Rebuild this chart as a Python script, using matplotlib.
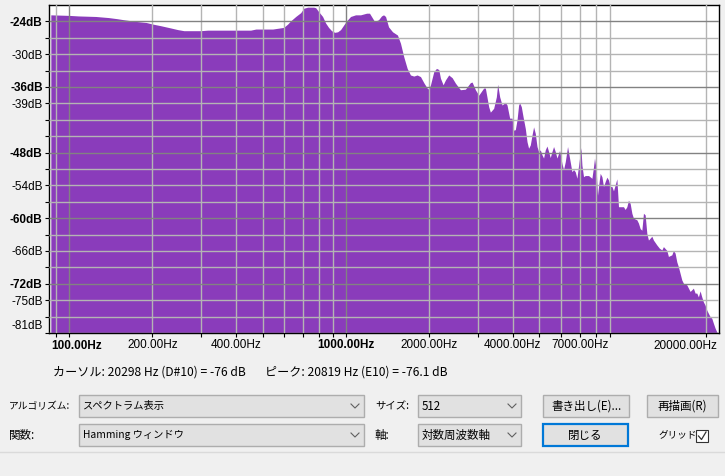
import matplotlib as mpl
mpl.use('Agg')
import matplotlib.pyplot as plt
from matplotlib.patches import Rectangle
from matplotlib.lines import Line2D
from matplotlib.ticker import FixedLocator, FuncFormatter

# spectrum (Hz, dB)
freq = [86, 100, 108, 125, 139, 149, 158, 174, 190, 201, 215, 233, 247, 260, 299, 317,
        394, 453, 473, 544, 596, 616, 632, 659, 687, 704, 728, 765, 778, 797, 824, 845,
        866, 888, 911, 934, 957, 981, 1006, 1040, 1084, 1130, 1188, 1217, 1248, 1269,
        1312, 1345, 1368, 1391, 1426, 1474, 1536, 1575, 1619, 1665, 1711, 1759, 1809,
        1860, 1911, 1966, 1992, 2021, 2077, 2124, 2165, 2196, 2245, 2289, 2352, 2420,
        2487, 2592, 2702, 2817, 2857, 2936, 3018, 3145, 3190, 3279, 3325, 3418, 3495,
        3533, 3593, 3665, 3767, 3820, 3904, 3982, 4035, 4092, 4151, 4206, 4241, 4301,
        4363, 4447, 4510, 4570, 4635, 4701, 4764, 4832, 4901, 4966, 5037, 5108, 5176,
        5250, 5324, 5396, 5472, 5550, 5625, 5704, 5786, 5912, 6031, 6111, 6198, 6318,
        6424, 6553, 6641, 6735, 6831, 6922, 7062, 7120, 7216, 7318, 7522, 7737, 7840,
        7906, 8018, 8105, 8173, 8289, 8407, 8519, 8640, 8763, 8880, 9006, 9135, 9257,
        9389, 9522, 9650, 10058, 10201, 10346, 10485, 10634, 10786, 10930, 11243, 11393,
        11556, 11720, 11877, 12046, 12217, 12381, 12735, 12905, 13275, 13565, 13838,
        14023, 14425, 14618, 15036, 15237, 15454, 15674, 15884, 16110, 16340, 16558,
        17032, 17506, 17754, 17991, 18247, 18507, 18754, 19021, 19291, 19549, 19827,
        20109, 20378, 20668, 20962, 21243, 21545, 21852, 22050]
level = [-22.8, -22.9, -23.0, -23.1, -23.3, -23.5, -23.7, -24.0, -24.2, -24.5, -24.8, -25.2,
         -25.5, -25.7, -25.7, -25.6, -25.6, -25.6, -25.4, -25.4, -25.1, -24.5, -23.9, -23.1,
         -22.4, -21.6, -21.4, -21.4, -21.5, -22.2, -23.1, -24.3, -25.1, -25.7, -26.0, -25.9,
         -25.5, -24.7, -23.9, -23.1, -22.8, -22.8, -22.5, -22.5, -23.4, -24.0, -23.7, -23.0,
         -22.8, -23.1, -25.0, -25.9, -26.5, -28.0, -30.5, -32.6, -33.8, -34.0, -33.8, -34.1,
         -35.2, -36.2, -36.4, -35.6, -33.2, -32.6, -32.8, -34.4, -35.6, -34.7, -33.8, -34.3,
         -35.3, -36.5, -36.4, -35.2, -35.1, -36.5, -37.5, -36.2, -36.2, -39.6, -40.6, -39.9,
         -37.8, -35.5, -37.8, -39.3, -38.8, -39.3, -41.7, -41.7, -43.9, -43.8, -42.0, -39.3,
         -38.9, -39.6, -41.4, -43.6, -46.0, -47.2, -46.6, -44.8, -43.3, -44.5, -46.9, -47.8,
         -47.5, -48.4, -49.0, -47.5, -46.8, -47.8, -48.9, -47.8, -46.9, -47.8, -49.0, -47.6,
         -50.0, -51.1, -49.7, -46.9, -49.0, -51.5, -51.1, -51.5, -52.7, -50.4, -47.1, -50.3,
         -52.4, -52.2, -52.2, -52.7, -50.6, -49.0, -51.2, -55.8, -54.2, -51.8, -52.4, -54.2,
         -53.3, -52.5, -53.0, -54.2, -54.2, -55.0, -53.9, -52.8, -57.9, -57.9, -58.4, -57.9,
         -56.7, -57.3, -59.1, -60.0, -60.3, -60.9, -61.9, -62.2, -59.1, -59.4, -62.8, -64.0,
         -63.3, -64.0, -64.9, -65.5, -65.8, -65.2, -65.9, -67.0, -66.7, -65.9, -66.4, -68.0,
         -68.9, -70.1, -71.3, -71.9, -72.2, -73.4, -73.1, -72.8, -73.7, -73.7, -74.4, -73.3,
         -74.4, -75.3, -75.9, -76.8, -77.4, -78.0, -78.3, -79.2, -80.1, -80.8, -81.0]

x_major = [100, 1000]
x_minor = [90, 200, 300, 400, 500, 600, 700, 800, 900,
           2000, 3000, 4000, 5000, 6000, 7000, 8000, 9000, 20000]
x_minor_labels = {200: '200.00Hz', 400: '400.00Hz', 2000: '2000.00Hz',
                  4000: '4000.00Hz', 7000: '7000.00Hz'}
y_major = [-24, -36, -48, -60, -72]
y_minor = [-27, -30, -33, -39, -42, -45, -51, -54, -57, -63, -66, -69, -75, -78, -81]
y_minor_labels = [-30, -39, -54, -66, -75]

info_cursor = 'カーソル: 20298 Hz (D#10) = -76 dB'
info_peak = 'ピーク: 20819 Hz (E10) = -76.1 dB'

W, H = 725, 476
BG = '#f0f0f0'
JP = ['Noto Sans CJK JP', 'DejaVu Sans']
plt.rcParams['font.family'] = ['Liberation Sans', 'DejaVu Sans']

fig = plt.figure(figsize=(W / 100, H / 100), dpi=100, facecolor=BG)

def fx(x):
    return x / W

def fy(y):
    return 1 - y / H

ax = fig.add_axes([fx(49), fy(333), 670 / W, 328 / H])
ax.fill_between(freq, level, -90, color='#8a3cbb', lw=0, zorder=1)
ax.set_xscale('log')
ax.set_xlim(84.7, 22260)
ax.set_ylim(-81, -21)

ax.xaxis.set_major_locator(FixedLocator(x_major))
ax.xaxis.set_minor_locator(FixedLocator(x_minor))
ax.xaxis.set_major_formatter(FuncFormatter(lambda v, p: '1000.00Hz' if round(v) == 1000 else ''))
ax.xaxis.set_minor_formatter(FuncFormatter(lambda v, p: x_minor_labels.get(int(round(v)), '')))
ax.yaxis.set_major_locator(FixedLocator(y_major))
ax.yaxis.set_minor_locator(FixedLocator(y_minor))
ax.yaxis.set_major_formatter(FuncFormatter(lambda v, p: '%ddB' % v))
ax.yaxis.set_minor_formatter(FuncFormatter(lambda v, p: '%ddB' % v if int(round(v)) in y_minor_labels else ''))

ax.tick_params(which='both', direction='out', length=3, width=0.8, labelsize=8.5, pad=1.5)
for t in ax.get_xticklabels(which='major') + ax.get_yticklabels(which='major'):
    t.set_fontweight('bold')

ax.grid(which='major', color='#828282', lw=1.0)
ax.grid(which='minor', color='#b4b4b4', lw=1.0)
ax.set_axisbelow(False)
for s in ax.spines.values():
    s.set_color('black')
    s.set_linewidth(1.0)

ax.annotate('100.00Hz', xy=(100, 0), xycoords=('data', 'axes fraction'), xytext=(-18, -13),
            textcoords='offset pixels', ha='left', va='center', fontsize=8.5, fontweight='bold')
ax.annotate('20000.00Hz', xy=(20000, 0), xycoords=('data', 'axes fraction'), xytext=(11, -13),
            textcoords='offset pixels', ha='right', va='center', fontsize=8.5)
ax.annotate('-81dB', xy=(0, -81), xycoords=('axes fraction', 'data'), xytext=(-6, 7),
            textcoords='offset pixels', ha='right', va='center', fontsize=8.5)

# info line
fig.text(fx(53), fy(372), info_cursor, family=JP, fontsize=8.7, va='center')
fig.text(fx(265), fy(372), info_peak, family=JP, fontsize=8.7, va='center')

# dialog controls
def box(x0, y0, x1, y1, ec='#adadad', lw=1.0):
    fig.patches.append(Rectangle((fx(x0), fy(y1)), (x1 - x0) / W, (y1 - y0) / H,
                                 transform=fig.transFigure, fc='#e1e1e1', ec=ec, lw=lw))

def chevron(xc, yc):
    fig.lines.append(Line2D([fx(xc - 4), fx(xc), fx(xc + 4)], [fy(yc - 2), fy(yc + 2), fy(yc - 2)],
                            transform=fig.transFigure, color='#606060', lw=0.8))

def combo(x0, x1, yc, text, size=8.3):
    box(x0, yc - 11, x1, yc + 11)
    fig.text(fx(x0 + 4), fy(yc), text, family=JP, fontsize=size, va='center')
    chevron(x1 - 9, yc)

def label(x, yc, text, size=8.3):
    fig.text(fx(x), fy(yc), text, family=JP, fontsize=size, va='center')

def button(x0, x1, yc, text, ec='#adadad', lw=1.0):
    box(x0, yc - 11, x1, yc + 11, ec=ec, lw=lw)
    fig.text(fx((x0 + x1) / 2), fy(yc), text, family=JP, fontsize=8.3, va='center', ha='center')

label(9, 406, 'アルゴリズム:', size=7.0)
combo(79, 364, 406, 'スペクトラム表示', size=7.4)
label(375, 406, 'サイズ:', size=7.5)
combo(418, 521, 406, '512')
button(543, 629, 406, '書き出し(E)...')
button(647, 718, 406, '再描画(R)')

label(9, 435, '関数:')
combo(79, 364, 435, 'Hamming ウィンドウ', size=7.4)
label(375, 435, '軸:')
combo(418, 521, 435, '対数周波数軸')
button(543, 628, 435, '閉じる', ec='#0078d7', lw=1.6)
label(658, 435, 'グリッド', size=6.9)

fig.patches.append(Rectangle((fx(696), fy(442)), 12 / W, 12 / H, transform=fig.transFigure,
                             fc='white', ec='#333333', lw=0.8))
fig.lines.append(Line2D([fx(698.5), fx(701.5), fx(706)], [fy(436), fy(439.5), fy(432)],
                        transform=fig.transFigure, color='#333333', lw=0.9))

fig.lines.append(Line2D([0, 1], [fy(452), fy(452)], transform=fig.transFigure, color='#dadada', lw=1.0))

fig.savefig('out.png', dpi=100, facecolor=BG)
